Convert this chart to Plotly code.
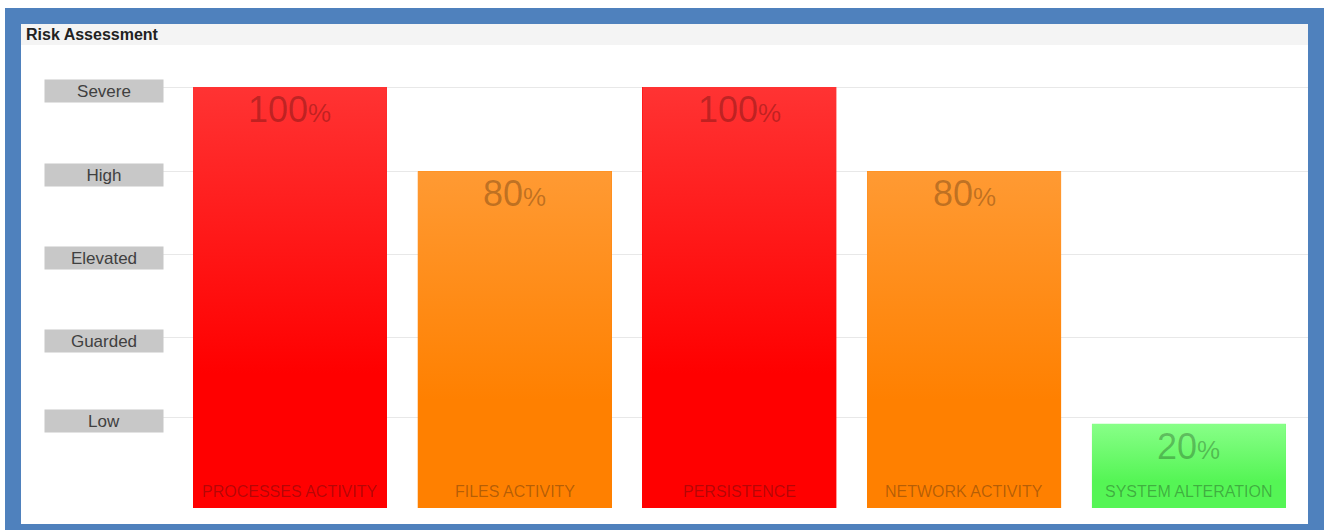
import plotly.graph_objects as go

# ---- data ----
CATEGORIES = ["PROCESSES ACTIVITY", "FILES ACTIVITY", "PERSISTENCE", "NETWORK ACTIVITY", "SYSTEM ALTERATION"]
VALUES = [100, 80, 100, 80, 20]
LEVEL_LABELS = ["Severe", "High", "Elevated", "Guarded", "Low"]
LEVEL_VALUES = [100, 80, 60.3, 40.6, 21.6]
TITLE = "Risk Assessment"

# ---- styles ----
W, H = 1327, 530
FONT = "Liberation Sans, Arial, sans-serif"
BAR_W = 0.863


def style_for(v):
    if v >= 90:
        return "#ff0000", "#ff3333"
    if v >= 50:
        return "#ff8000", "#ff9a33"
    return "#55f555", "#88ff88"


def px_x(p):
    return p / W


def px_y(p):
    return 1 - p / H


idx = list(range(len(CATEGORIES)))
bottoms = [style_for(v)[0] for v in VALUES]

fig = go.Figure()
fig.add_trace(go.Bar(x=idx, y=VALUES, width=BAR_W, marker=dict(color=bottoms, line=dict(width=0)),
                     hoverinfo="skip", showlegend=False))

for i, v in enumerate(VALUES):
    bot, top = style_for(v)
    x0, x1 = i - BAR_W / 2, i + BAR_W / 2
    fig.add_trace(go.Scatter(
        x=[x0, x0, x1, x1, x0], y=[0, v, v, 0, 0], mode="lines", fill="toself",
        line=dict(width=0, color=bot),
        fillgradient=dict(type="vertical", colorscale=[[0, bot], [0.32, bot], [1, top]], start=0, stop=v),
        hoverinfo="skip", showlegend=False))

shapes = [
    dict(type="rect", xref="paper", yref="paper", x0=px_x(5), x1=px_x(1324), y0=px_y(535), y1=px_y(8),
         fillcolor="#4f81bd", line=dict(width=0), layer="below"),
    dict(type="rect", xref="paper", yref="paper", x0=px_x(21), x1=px_x(1308), y0=px_y(524), y1=px_y(24),
         fillcolor="#ffffff", line=dict(width=0), layer="below"),
    dict(type="rect", xref="paper", yref="paper", x0=px_x(21), x1=px_x(1308), y0=px_y(45), y1=px_y(24),
         fillcolor="#f4f4f4", line=dict(width=0), layer="below"),
]

ann = [dict(text=f"<b>{TITLE}</b>", xref="paper", yref="paper", x=px_x(24), y=px_y(35),
            xanchor="left", yanchor="middle", showarrow=False,
            font=dict(family=FONT, size=16, color="#222222"))]

for lab, lv in zip(LEVEL_LABELS, LEVEL_VALUES):
    ann.append(dict(text=lab, xref="paper", yref="y", x=px_x(104), y=lv, yshift=-4,
                    xanchor="center", yanchor="middle", showarrow=False,
                    width=118, height=22, bgcolor="#c8c8c8", borderpad=0,
                    font=dict(family=FONT, size=17, color="#404040")))

PCT_COLOR = "rgba(0,0,0,0.26)"
LAB_COLOR = "rgba(20,20,20,0.33)"
for i, (c, v) in enumerate(zip(CATEGORIES, VALUES)):
    ann.append(dict(text=f"{v}<span style='font-size:26px'>%</span>", x=i, y=v, xref="x", yref="y",
                    xanchor="center", yanchor="top", yshift=0, showarrow=False,
                    font=dict(family=FONT, size=36, color=PCT_COLOR)))
    ann.append(dict(text=c, x=i, y=0, xref="x", yref="y", xanchor="center", yanchor="bottom",
                    yshift=6, showarrow=False, font=dict(family=FONT, size=16, color=LAB_COLOR)))

fig.update_layout(
    width=W, height=H, margin=dict(l=0, r=0, t=0, b=0, pad=0),
    paper_bgcolor="#ffffff", plot_bgcolor="rgba(0,0,0,0)",
    shapes=shapes, annotations=ann, bargap=0,
    xaxis=dict(domain=[px_x(163), px_x(1308)], range=[-0.565, 4.53], showgrid=False, zeroline=False,
               showticklabels=False, showline=False, fixedrange=True),
    yaxis=dict(domain=[22 / H, 485 / H], range=[0, 110], tickvals=LEVEL_VALUES, showgrid=True,
               gridcolor="#e8e8e8", gridwidth=1, zeroline=False, showticklabels=False, showline=False,
               fixedrange=True),
    showlegend=False,
)

fig.write_html("out.html", config={"displayModeBar": False},
               post_script="document.body.style.margin='0';document.body.style.padding='0';")
